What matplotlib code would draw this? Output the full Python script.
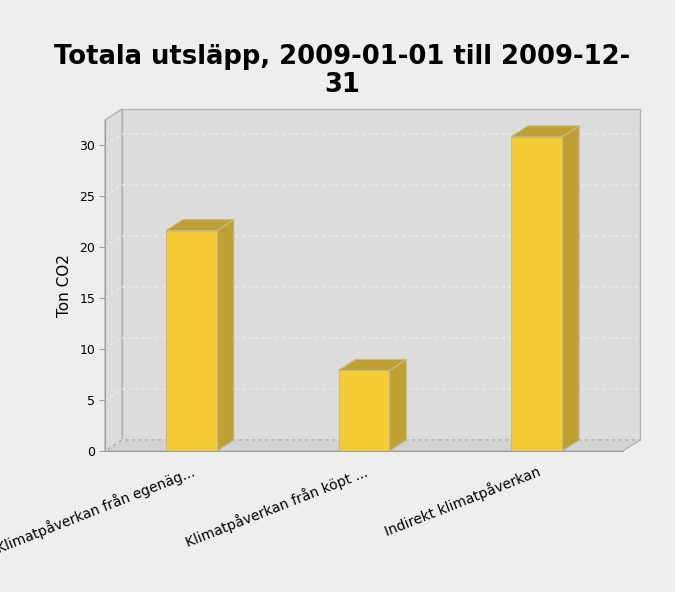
import matplotlib.pyplot as plt
from matplotlib.patches import Polygon

categories = ["Klimatpåverkan från egenäg...", "Klimatpåverkan från köpt ...", "Indirekt klimatpåverkan"]
values = [21.6, 7.9, 30.8]
yticks = [0, 5, 10, 15, 20, 25, 30]
ymax = 32.45

W, H = 675, 592
fig = plt.figure(figsize=(W / 100, H / 100), dpi=100, facecolor='#eeeeee')

# front plane of the 3d box (pixels)
left, right, top, bottom = 105, 623, 120, 451
ax = fig.add_axes([left / W, 1 - bottom / H, (right - left) / W, (bottom - top) / H])
ax.set_xlim(-0.5, 2.5)
ax.set_ylim(0, ymax)
ax.patch.set_visible(False)
for s in ['top', 'right']:
    ax.spines[s].set_visible(False)
for s in ['left', 'bottom']:
    ax.spines[s].set_color('#a0a0a0')
    ax.spines[s].set_zorder(4)

# depth of the box: 17 px right, 11 px up, in data units
dx = 17 * 3 / (right - left)
dy = 11 * ymax / (bottom - top)
x0, x1 = -0.5, 2.5

wall = '#dcdcdc'
edge = '#b4b4b4'
ax.add_patch(Polygon([(x0 + dx, dy), (x1 + dx, dy), (x1 + dx, ymax + dy), (x0 + dx, ymax + dy)],
                     closed=True, fc=wall, ec=edge, lw=1, zorder=0.5, clip_on=False))
ax.add_patch(Polygon([(x0, 0), (x0, ymax), (x0 + dx, ymax + dy), (x0 + dx, dy)],
                     closed=True, fc=wall, ec=edge, lw=1, zorder=0.5, clip_on=False))
ax.add_patch(Polygon([(x0, 0), (x1, 0), (x1 + dx, dy), (x0 + dx, dy)],
                     closed=True, fc='#d3d3d3', ec=edge, lw=1, zorder=0.6, clip_on=False))

# gridlines on left wall and back wall
for t in yticks:
    ax.plot([x0, x0 + dx, x1 + dx], [t, t + dy, t + dy], color='#efefef', lw=0.8,
            ls=(0, (3, 3)), zorder=1, clip_on=False)

# bars
front = '#f5cc36'
shade = '#bfa035'
bedge = '#c8b986'
w = 0.295
for i, v in enumerate(values):
    xl, xr = i - w / 2, i + w / 2
    ax.add_patch(Polygon([(xr, 0), (xr + dx, dy), (xr + dx, v + dy), (xr, v)],
                         closed=True, fc=shade, ec=bedge, lw=0.8, zorder=3, clip_on=False))
    ax.add_patch(Polygon([(xl, v), (xr, v), (xr + dx, v + dy), (xl + dx, v + dy)],
                         closed=True, fc=shade, ec=bedge, lw=0.8, zorder=3, clip_on=False))
ax.bar(range(len(values)), values, width=w, color=front, edgecolor=bedge, lw=0.8, zorder=3)

ax.set_yticks(yticks)
ax.tick_params(axis='y', length=4, color='#a0a0a0', labelsize=9, pad=3)
ax.set_xticks(range(len(categories)))
ax.set_xticklabels(categories, rotation=21.5, ha='right', va='top', rotation_mode='anchor', fontsize=10)
ax.tick_params(axis='x', length=0, pad=9)
ax.set_ylabel("Ton CO2", fontsize=11, labelpad=5)

fig.text(342 / W, 1 - 44 / H, "Totala utsläpp, 2009-01-01 till 2009-12-\n31", ha='center', va='top',
         fontsize=18.6, fontweight='bold', linespacing=1.08)

fig.savefig('out.png', dpi=100, facecolor=fig.get_facecolor())
